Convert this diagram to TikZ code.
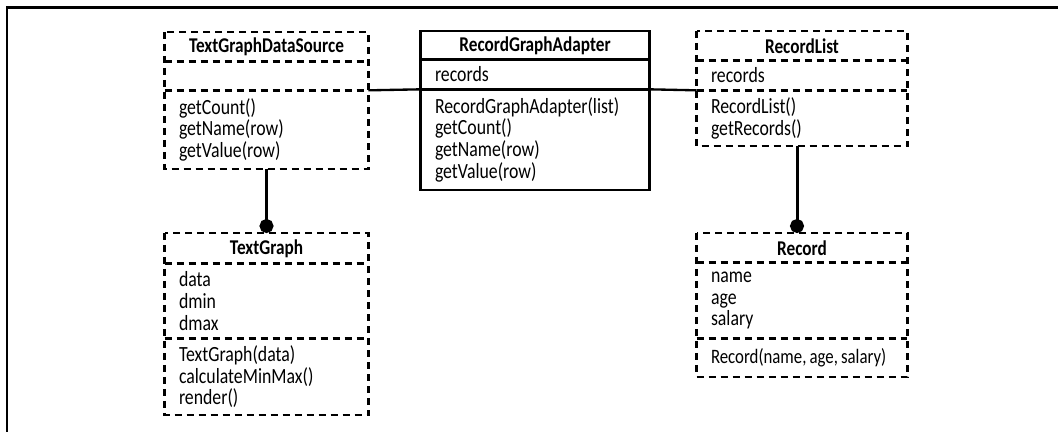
\documentclass[tikz,border=0pt]{standalone}
\usepackage{fontspec}
\setmainfont{Carlito}[FakeStretch=0.82]
\usetikzlibrary{calc,arrows.meta}

\tikzset{
  box/.style={line width=1.6pt,dash pattern=on 4.2pt off 3pt},
  solidbox/.style={line width=1.7pt},
  head/.style={anchor=north,inner sep=0pt,font=\bfseries\fontsize{12.6}{13}\selectfont},
  body/.style={anchor=north,align=left,inner xsep=8.4pt,inner ysep=0pt,font=\fontsize{13}{13}\selectfont},
  link/.style={line width=1.4pt},
  has/.style={line width=1.8pt,-{Circle[length=8.4pt]}},
}

\begin{document}
\begin{tikzpicture}[x=0.6pt,y=-0.6pt]
  \useasboundingbox (0,0) rectangle (1058,432);
  \draw[line width=1.4pt] (7,432) -- (7,7.5) -- (1058,7.5);

  % TextGraphDataSource
  \node[head,minimum width=121.8pt,minimum height=17.4pt] (tgds) at (266.5,32) {TextGraphDataSource};
  \node[body,text width=105pt,minimum height=16.8pt] (tgdsA) at (tgds.south) {};
  \node[body,text width=105pt,minimum height=46.8pt] (tgdsM) at (tgdsA.south) {getCount()\\getName(row)\\getValue(row)};
  \draw[box] (tgds.north west) rectangle (tgdsM.south east);
  \draw[box] (tgdsA.north west) -- (tgdsA.north east) (tgdsM.north west) -- (tgdsM.north east);

  % RecordGraphAdapter
  \node[head,minimum width=136.8pt,minimum height=16.8pt] (rga) at (535,31) {RecordGraphAdapter};
  \node[body,text width=120pt,minimum height=17.4pt] (rgaA) at (rga.south) {records};
  \node[body,text width=120pt,minimum height=60pt] (rgaM) at (rgaA.south) {RecordGraphAdapter(list)\\getCount()\\getName(row)\\getValue(row)};
  \draw[solidbox] (rga.north west) rectangle (rgaM.south east);
  \draw[solidbox] (rgaA.north west) -- (rgaA.north east) (rgaM.north west) -- (rgaM.north east);

  % RecordList
  \node[head,minimum width=126pt,minimum height=17.4pt] (rl) at (802,31) {RecordList};
  \node[body,text width=109.2pt,minimum height=17.4pt] (rlA) at (rl.south) {records};
  \node[body,text width=109.2pt,minimum height=33pt] (rlM) at (rlA.south) {RecordList()\\getRecords()};
  \draw[box] (rl.north west) rectangle (rlM.south east);
  \draw[box] (rlA.north west) -- (rlA.north east) (rlM.north west) -- (rlM.north east);

  % TextGraph
  \node[head,minimum width=121.8pt,minimum height=18pt] (tg) at (266.5,233) {TextGraph};
  \node[body,text width=105pt,minimum height=44.4pt] (tgA) at (tg.south) {data\\dmin\\dmax};
  \node[body,text width=105pt,minimum height=45.6pt] (tgM) at (tgA.south) {TextGraph(data)\\calculateMinMax()\\render()};
  \draw[box] (tg.north west) rectangle (tgM.south east);
  \draw[box] (tgA.north west) -- (tgA.north east) (tgM.north west) -- (tgM.north east);

  % Record
  \node[head,minimum width=126pt,minimum height=17.4pt] (rec) at (802,233) {Record};
  \node[body,text width=109.2pt,minimum height=45pt] (recA) at (rec.south) {name\\age\\salary};
  \node[body,text width=109.2pt,minimum height=22.8pt,font=\fontsize{12.3}{13}\selectfont] (recM) at (recA.south) {\spaceskip=0.15em\mbox{Record(name, age, salary)}};
  \draw[box] (rec.north west) rectangle (recM.south east);
  \draw[box] (recA.north west) -- (recA.north east) (recM.north west) -- (recM.north east);

  % links
  \draw[link] (tgdsA.south east) -- (rgaA.south west);
  \draw[link] (rgaA.south east) -- (rlA.south west);
  \draw[has] (tgdsM.south) -- (tg.north);
  \draw[has] ($(rlM.south)+(-5,0)$) -- ($(rec.north)+(-5,0)$);
\end{tikzpicture}
\end{document}
